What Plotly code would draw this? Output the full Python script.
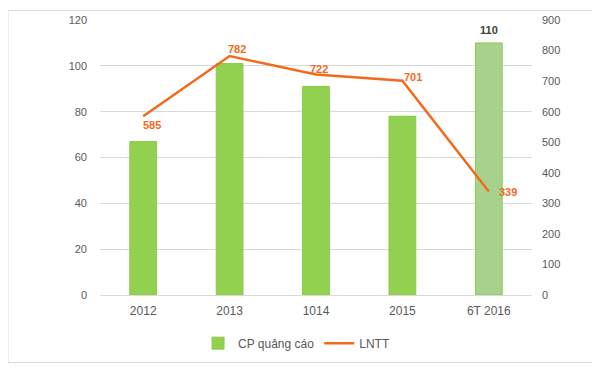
import plotly.graph_objects as go

categories = ["2012", "2013", "1014", "2015", "6T 2016"]
cp_quang_cao = [67, 101, 91, 78, 110]
lntt = [585, 782, 722, 701, 339]
bar_colors = ["#92D050", "#92D050", "#92D050", "#92D050", "#A9D18E"]
bar_label_shown = [False, False, False, False, True]

# pixel offsets of the line's value labels from their points
line_label_dx = [9, 7, 3, 11, 19]
line_label_dy = [-9, 7, 5, 4, -1]

tick_col = "#595959"

fig = go.Figure()
fig.add_trace(go.Bar(
    x=categories, y=cp_quang_cao, name="CP quảng cáo",
    marker=dict(color=bar_colors, line=dict(color="#8CCB4A", width=1)),
    yaxis="y",
))
fig.add_trace(go.Scatter(
    x=categories, y=lntt, name="LNTT", mode="lines",
    line=dict(color="#F26B1D", width=2.5),
    yaxis="y2",
))

annotations = []
for i, (v, dx, dy) in enumerate(zip(lntt, line_label_dx, line_label_dy)):
    annotations.append(dict(
        x=i, y=v, xref="x", yref="y2", text=str(v), showarrow=False,
        xshift=dx, yshift=dy, xanchor="center", yanchor="middle",
        font=dict(family="Liberation Sans", size=11, color="#F26B1D", weight="bold"),
    ))
for i, (v, show) in enumerate(zip(cp_quang_cao, bar_label_shown)):
    if show:
        annotations.append(dict(
            x=i, y=v, xref="x", yref="y", text=str(v), showarrow=False,
            yshift=13, xanchor="center", yanchor="middle",
            font=dict(family="Liberation Sans", size=11, color="#404040", weight="bold"),
        ))

# page body has an 8px default margin, so the figure is drawn 8px in from the top-left
fig.update_layout(
    template="none",
    width=592, height=359,
    margin=dict(l=92, r=68, t=12, b=72, autoexpand=False),
    paper_bgcolor="white", plot_bgcolor="white",
    font=dict(family="Liberation Sans", size=11, color=tick_col),
    bargap=0.69,
    showlegend=True,
    legend=dict(orientation="h", x=0.455, xanchor="center", y=-0.175, yanchor="middle",
                font=dict(size=12, color=tick_col), itemwidth=30, bgcolor="rgba(0,0,0,0)"),
    xaxis=dict(type="category", categoryorder="array", categoryarray=categories,
               range=[-0.5, len(categories) - 0.5],
               showgrid=False, showline=True, linecolor="#D9D9D9", linewidth=1,
               ticks="", tickfont=dict(size=12, color=tick_col), automargin=False,
               zeroline=False, ticklabelstandoff=5),
    yaxis=dict(range=[0, 120], dtick=20, showgrid=True, gridcolor="#D9D9D9", gridwidth=1,
               zeroline=False, ticks="", ticklabelstandoff=12, automargin=False,
               tickfont=dict(size=11, color=tick_col), showline=False),
    yaxis2=dict(range=[0, 900], dtick=100, overlaying="y", side="right", showgrid=False,
                zeroline=False, ticks="", ticklabelstandoff=9, automargin=False,
                tickfont=dict(size=11, color=tick_col), showline=False),
    annotations=annotations,
    shapes=[dict(type="rect", xref="paper", yref="paper",
                 x0=-0.213, x1=1.141, y0=-0.2455, y1=1.0345,
                 line=dict(color="#D9D9D9", width=1), layer="below")],
)

fig.write_html("out.html")
